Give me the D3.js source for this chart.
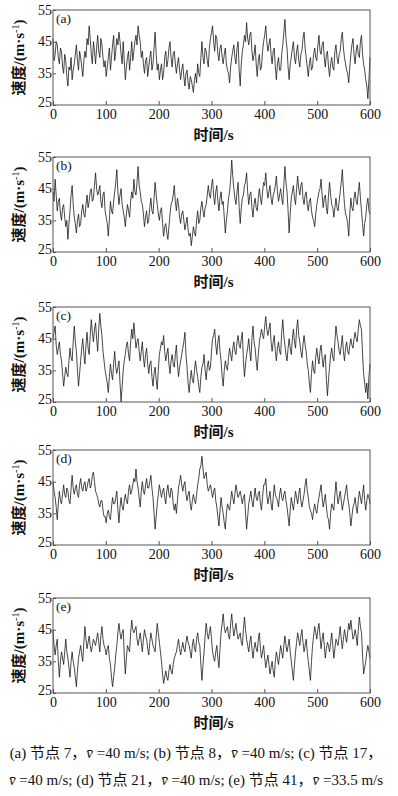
<!DOCTYPE html>
<html><head><meta charset="utf-8">
<script src="https://cdn.jsdelivr.net/npm/d3@7"></script>
<style>
html,body{margin:0;padding:0;background:#fff;}
svg{display:block;}
</style>
</head><body>
<svg id="chart" width="398" height="796"></svg>
<script>
// ---- data ----
// main samples every 4 s, "mid" samples at the 2 s points in between
const panelLabels = ["(a)", "(b)", "(c)", "(d)", "(e)"];
const xTicks = [0, 100, 200, 300, 400, 500, 600];
const yTicks = [25, 35, 45, 55];
const xTitle = "时间/s";
const yTitle = "速度/(m·s";

const seriesA = [
 46,41,44,38,42,35,39,31,36,33, 38,44,36,40,34,42,46,50,41,45,
 38,47,40,44,37,34,40,36,44,39, 46,48,41,45,33,40,36,45,42,47,
 50,45,42,35,40,37,42,38,48,36, 33,38,35,42,39,45,37,42,35,40,
 33,38,31,36,30,33,29,35,38,34, 45,38,42,37,46,50,42,46,39,44,
 38,43,36,32,40,44,38,45,31,42, 47,51,44,48,39,44,34,41,37,45,
 50,42,46,38,43,33,40,36,44,52, 43,33,40,45,38,44,37,42,48,40,
 34,40,37,43,39,47,41,45,37,42, 34,40,36,44,38,42,48,40,36,32,
 41,46,38,44,40,47,38,33,27,40];
const midA = [
 39,45,40,43,37,41,34,37,40,36, 41,39,42,37,39,40,44,46,38,42,
 43,42,46,40,39,37,43,40,47,42, 44,45,38,39,37,42,40,39,45,44,
 47,40,38,39,34,40,36,43,41,38, 36,33,40,37,43,40,41,38,38,36,
 36,34,35,32,34,31,33,32,35,40, 40,43,39,43,48,45,47,41,43,40,
 41,38,35,37,42,40,43,36,38,44, 45,46,47,42,41,38,39,36,42,47,
 45,44,41,42,37,38,36,41,48,46, 37,38,43,40,42,39,41,46,43,37,
 38,36,41,40,44,42,44,40,41,37, 38,37,42,40,41,46,43,38,35,37,
 44,41,42,41,45,41,36,31,33];
const seriesB = [
 44,48,38,42,35,40,33,29,38,46, 36,31,37,34,40,36,43,41,45,42,
 50,43,46,39,44,36,30,41,37,44, 51,40,45,38,33,40,36,44,48,43,
 52,44,40,33,38,35,42,37,47,40, 35,39,30,34,29,37,41,46,38,40,
 34,38,32,36,30,27,33,30,38,35, 41,36,40,46,42,48,40,46,38,44,
 41,31,38,44,54,45,40,47,34,42, 46,50,40,44,36,42,38,45,40,47,
 50,42,46,40,44,49,41,45,40,52, 44,31,42,46,40,49,43,47,40,44,
 38,42,36,33,40,44,48,39,43,37, 47,40,36,42,38,44,51,40,36,30,
 42,38,44,40,47,38,30,36,42,37];
const midB = [
 41,43,41,37,39,36,35,34,43,40, 34,35,33,38,37,40,39,44,41,46,
 45,44,41,43,38,34,35,38,41,47, 44,43,40,36,37,38,41,42,44,47,
 46,41,37,36,34,39,38,42,43,37, 38,34,33,31,33,40,43,41,42,36,
 37,35,34,32,31,30,31,35,34,39, 38,39,43,43,46,43,44,41,42,40,
 36,35,42,48,49,42,44,39,39,43, 47,44,43,39,40,39,42,42,44,46,
 45,44,42,43,46,44,43,42,46,47, 38,37,44,42,45,45,46,42,43,40,
 41,38,35,37,42,45,43,42,39,43, 43,39,39,39,41,47,45,37,34,37,
 39,42,41,44,42,34,34,40,38];
const seriesC = [
 45,49,40,44,38,30,36,33,42,38, 49,41,30,38,45,37,47,40,51,44,
 50,41,53,46,38,33,28,37,32,41, 34,38,25,35,40,44,38,48,50,42,
 45,38,44,36,42,34,38,30,36,29, 40,44,46,38,42,34,40,36,43,33,
 38,42,47,36,28,35,31,38,33,28, 36,40,32,38,36,45,48,40,46,38,
 30,38,35,42,38,44,40,46,42,47, 33,40,45,38,49,42,35,44,48,45,
 52,46,50,41,46,38,44,40,51,43, 38,45,40,48,42,51,44,39,46,41,
 35,28,38,34,42,37,43,36,40,27, 36,42,38,49,44,40,46,38,44,40,
 45,42,47,44,51,48,34,28,26,37];
const midC = [
 47,43,42,40,34,33,34,38,39,44, 44,35,34,42,40,43,42,46,47,48,
 45,48,49,41,35,31,33,34,37,36, 36,31,30,38,43,40,44,45,46,44,
 41,41,39,40,37,37,33,34,32,35, 42,43,41,40,37,38,37,40,37,36,
 40,44,40,31,32,32,35,35,30,33, 37,35,36,35,41,46,43,44,41,33,
 35,36,39,40,42,41,44,43,45,38, 37,42,41,45,44,38,40,46,46,49,
 48,48,44,44,41,42,41,47,46,40, 42,42,45,44,48,46,41,43,43,37,
 31,34,35,39,39,41,39,39,32,32, 40,39,44,46,41,43,41,42,41,43,
 43,45,45,48,49,40,31,31,33];
const seriesD = [
 45,40,33,42,38,44,40,42,38,47, 41,44,40,46,42,45,43,46,44,48,
 42,40,37,39,34,32,36,33,40,38, 42,32,40,36,41,38,44,42,46,49,
 43,37,45,41,46,43,47,40,30,38, 44,40,43,38,44,40,42,36,35,43,
 47,42,45,39,42,36,41,38,44,49, 53,46,48,42,44,40,43,37,31,40,
 35,30,38,36,42,38,44,40,42,38, 41,30,38,42,37,43,39,42,36,44,
 46,38,42,36,44,40,37,43,39,42, 37,31,40,36,42,38,43,37,41,46,
 40,36,33,38,35,40,44,37,41,34, 30,38,36,45,38,42,36,40,44,38,
 31,37,40,35,42,38,44,36,41,38];
const midD = [
 42,37,38,39,41,41,43,39,43,43, 43,41,44,43,44,42,45,43,47,45,
 41,38,39,36,34,35,34,37,38,40, 36,37,37,39,39,42,41,44,45,45,
 40,42,42,44,43,45,43,35,34,41, 42,42,40,42,41,43,38,38,39,45,
 44,44,41,41,38,39,39,41,46,50, 49,47,44,43,42,42,39,34,36,37,
 32,35,37,39,40,41,42,41,40,40, 35,34,40,39,40,40,41,38,40,44,
 41,40,38,40,41,39,41,40,41,39, 34,36,38,39,40,41,39,39,44,42,
 37,35,36,36,38,42,40,39,37,33, 35,37,41,41,40,39,38,42,40,35,
 34,38,37,39,40,41,39,39,40];
const seriesE = [
 45,37,42,30,38,34,42,36,30,38, 33,27,36,40,35,46,39,43,38,42,
 40,44,38,46,40,37,40,34,27,33, 40,47,42,45,31,40,38,48,44,46,
 40,44,38,45,42,37,44,40,38,47, 41,35,28,32,29,34,31,36,38,42,
 37,41,38,43,40,36,42,38,44,40, 29,38,47,42,46,38,35,40,33,44,
 50,44,46,42,50,43,47,42,44,40, 49,42,38,43,36,41,38,44,36,40,
 33,37,31,35,30,38,34,40,36,43, 38,42,35,29,38,44,40,45,38,42,
 35,29,40,46,42,47,39,44,36,41, 38,44,36,42,40,46,39,45,41,47,
 48,42,45,40,49,44,31,35,40,36];
const midE = [
 40,40,35,35,36,38,38,33,35,35, 30,32,38,37,41,42,41,40,40,41,
 42,41,43,42,39,39,36,30,30,37, 44,44,44,37,36,39,44,45,45,42,
 42,41,42,43,39,41,42,39,43,44, 38,31,30,30,32,32,34,37,40,39,
 39,39,41,41,38,40,39,42,41,34, 34,43,44,44,42,36,38,36,39,47,
 46,45,43,47,46,45,44,43,41,45, 45,40,41,39,39,39,42,39,38,36,
 35,34,33,32,35,36,37,38,40,40, 40,38,32,34,41,42,43,41,40,38,
 32,35,43,44,45,43,42,40,39,40, 41,40,39,41,43,42,42,43,44,45,
 45,43,43,45,46,37,33,38,38];

const allSeries = [[seriesA, midA], [seriesB, midB], [seriesC, midC], [seriesD, midD], [seriesE, midE]];

const captionLine1 = ["(a)  节点 7，", "v̄", " =40 m/s; (b)  节点 8，", "v̄", " =40 m/s; (c)  节点 17，"];
const captionLine2 = ["v̄", " =40 m/s; (d)  节点 21，", "v̄", " =40 m/s; (e)  节点 41，", "v̄", " =33.5 m/s"];

// ---- layout ----
const svg = d3.select("#chart");
const left = 53, right = 370, ph = 95;
const tops = [10, 157, 307, 450, 598];
const serif = "'Liberation Serif', 'Times New Roman', serif";
const cjk = "'Liberation Serif', 'Noto Sans CJK SC', sans-serif";

const x = d3.scaleLinear().domain([0, 600]).range([left, right]);

allSeries.forEach(([main, mid], p) => {
  const top = tops[p], bottom = top + ph;
  const y = d3.scaleLinear().domain([25, 55]).range([bottom, top]);
  const g = svg.append("g");
  const n = main.length;
  const step = 600 / (n - 1);
  // merge main and mid samples in time order
  const pts = [];
  main.forEach((v, i) => {
    pts.push([i * step, v]);
    if (i < mid.length) pts.push([i * step + step / 2, mid[i]]);
  });
  const line = d3.line().x(d => x(d[0])).y(d => y(d[1]));
  g.append("path").datum(pts)
    .attr("d", line)
    .attr("fill", "none")
    .attr("stroke", "#1a1a1a")
    .attr("stroke-width", 0.8)
    .attr("stroke-linejoin", "miter");

  // frame
  g.append("rect").attr("x", left).attr("y", top)
    .attr("width", right - left).attr("height", ph)
    .attr("fill", "none").attr("stroke", "#555").attr("stroke-width", 1);

  // x axis (inward ticks)
  const xa = d3.axisBottom(x).tickValues(xTicks).tickSizeInner(-4).tickSizeOuter(0).tickPadding(6);
  const xg = g.append("g").attr("transform", `translate(0,${bottom})`).call(xa);
  xg.attr("font-family", null).attr("font-size", null);
  xg.select(".domain").remove();
  xg.selectAll(".tick line").attr("stroke", "#555");
  xg.selectAll(".tick text").style("font-family", serif).style("font-size", "14px")
    .attr("fill", "#111").attr("dy", null).attr("y", 14);

  // y axis labels + inward ticks
  const ya = d3.axisLeft(y).tickValues(yTicks).tickSizeInner(-3).tickSizeOuter(0).tickPadding(4);
  const yg = g.append("g").attr("transform", `translate(${left},0)`).call(ya);
  yg.attr("font-family", null).attr("font-size", null);
  yg.select(".domain").remove();
  yg.selectAll(".tick line").attr("stroke", "#555");
  yg.selectAll(".tick text").style("font-family", serif).style("font-size", "14px")
    .attr("fill", "#111").attr("x", -1).attr("dy", "0.3em");
  yg.selectAll(".tick").filter(d => d === 25).select("text").attr("dy", "0.1em");

  // panel label
  g.append("text").attr("x", left + 3).attr("y", top + 13)
    .style("font-family", serif).style("font-size", "13.5px").attr("fill", "#111")
    .text(panelLabels[p]);

  // x title
  g.append("text").attr("x", (left + right) / 2 + 2).attr("y", bottom + 35)
    .attr("text-anchor", "middle").style("font-family", cjk)
    .style("font-size", "15px").style("font-weight", "bold").attr("fill", "#111")
    .text(xTitle);

  // y title
  const yt = g.append("text")
    .attr("transform", `translate(24,${(top + bottom) / 2}) rotate(-90)`)
    .attr("text-anchor", "middle").style("font-family", cjk)
    .style("font-size", "15px").style("font-weight", "bold").attr("fill", "#111");
  yt.append("tspan").text(yTitle);
  yt.append("tspan").style("font-size", "10px").attr("dy", -5).style("font-weight", "normal").text("-1");
  yt.append("tspan").attr("dy", 5).text(")");
});

// caption
function caption(parts, yy) {
  const t = svg.append("text").attr("x", 196).attr("y", yy).attr("text-anchor", "middle")
    .style("font-family", cjk).style("font-size", "15px").attr("fill", "#111");
  parts.forEach(s => {
    const ts = t.append("tspan").text(s);
    if (s === "v̄") ts.style("font-style", "italic");
  });
}
caption(captionLine1, 758);
caption(captionLine2, 785);
</script>
</body></html>
